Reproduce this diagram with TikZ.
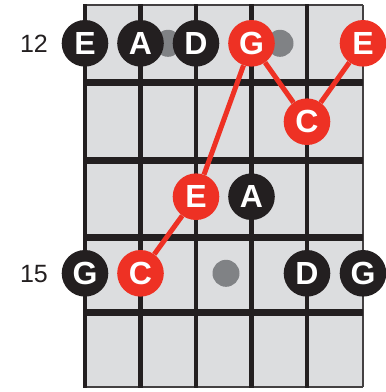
\documentclass[tikz,border=0pt]{standalone}
\usepackage{fontspec}
\setmainfont{Liberation Sans}
\definecolor{fb}{HTML}{DCDDDF}
\definecolor{ink}{HTML}{231F20}
\definecolor{rd}{HTML}{EE3124}
\definecolor{mk}{HTML}{808285}
\tikzset{
  note/.style={circle,minimum size=46.6pt,inner sep=0pt,font=\fontsize{32}{32}\selectfont\bfseries,text=white},
  blk/.style={note,fill=ink},
  red/.style={note,fill=rd},
  marker/.style={circle,fill=mk,minimum size=27pt,inner sep=0pt},
  fretnum/.style={font=\fontsize{25}{25}\selectfont,text=ink},
  link/.style={draw=rd,line width=5pt}
}
\begin{document}
\begin{tikzpicture}[x=1pt,y=-1pt]
\useasboundingbox (0,0) rectangle (386,392);
% board
\fill[fb] (85,5) rectangle (363,387);
\draw[ink!85,line width=2pt] (85,5) -- (363,5);
\draw[ink!85,line width=2pt] (85,387) -- (363,387);
\draw[ink!85,line width=2.6pt] (363,5) -- (363,387);
\foreach \x in {85,140.5,196,251.5,307}
  \draw[ink,line width=4.5pt] (\x,4) -- (\x,388);
\foreach \y in {82.3,160.3,237,312.3}
  \draw[ink,line width=7pt] (85,\y) -- (363,\y);
% position markers
\node[marker] (m1) at (168,43.3) {};
\node[marker] (m2) at (280,43.3) {};
\node[marker] (m3) at (226,273.3) {};
% fret numbers
\node[fretnum] (f12) at (34,44) {12};
\node[fretnum] (f15) at (34,274) {15};
% notes
\node[blk] (e1) at (85,43.3) {E};
\node[blk] (a1) at (140.5,43.3) {A};
\node[blk] (d1) at (196,43.3) {D};
\node[red] (g1) at (251.5,43.3) {G};
\node[red] (e2) at (363,43.3) {E};
\node[red] (c1) at (307,121.7) {C};
\node[red] (e3) at (196,196.7) {E};
\node[blk] (a2) at (251.5,196.7) {A};
\node[blk] (g2) at (85,273.3) {G};
\node[red] (c2) at (140.5,273.3) {C};
\node[blk] (d2) at (307,273.3) {D};
\node[blk] (g3) at (363,273.3) {G};
% links
\draw[link] (c2) -- (e3);
\draw[link] (e3) -- (g1);
\draw[link] (g1) -- (c1);
\draw[link] (c1) -- (e2);
\end{tikzpicture}
\end{document}
